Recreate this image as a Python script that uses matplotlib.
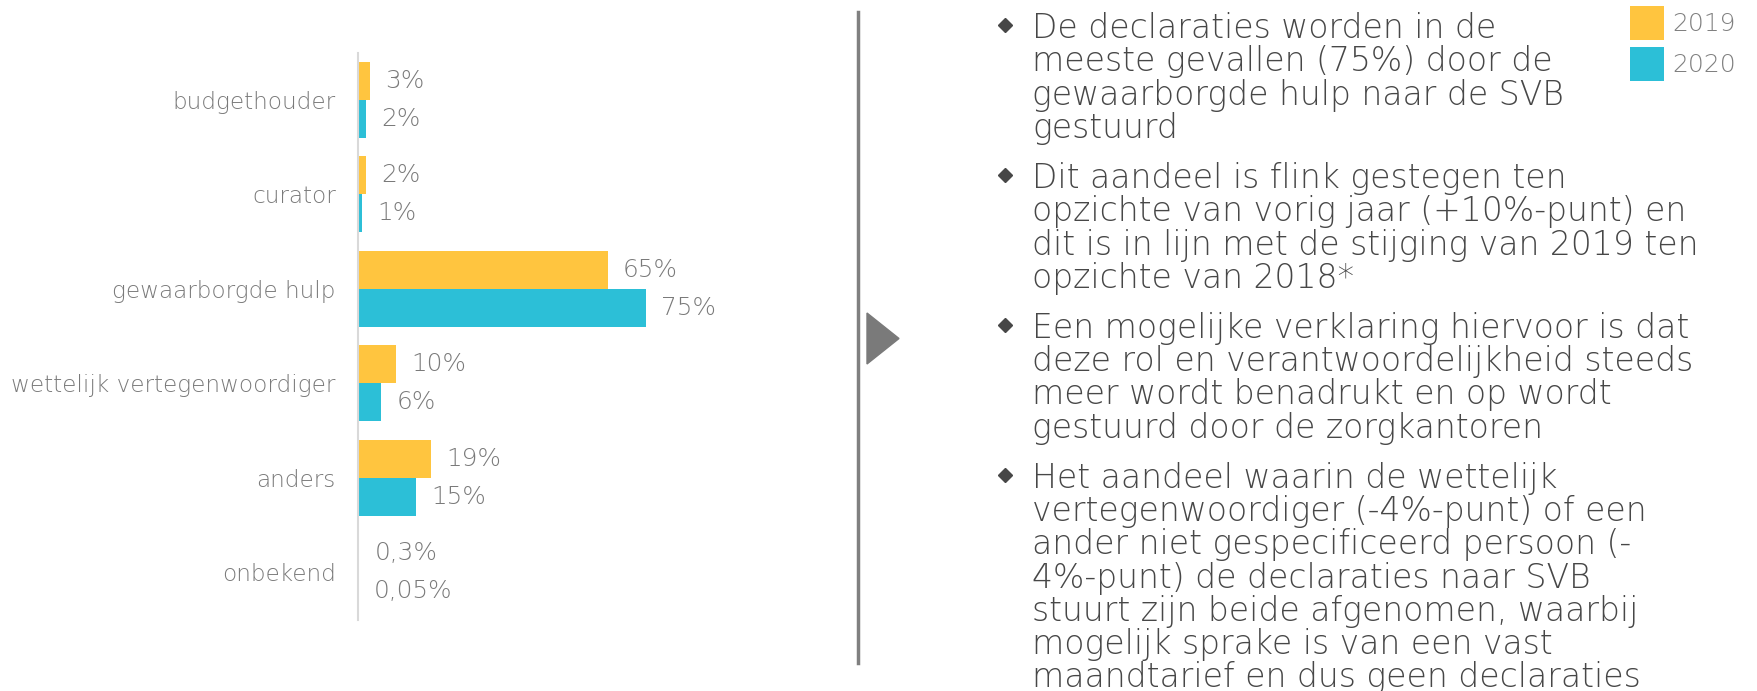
import numpy as np
import matplotlib
matplotlib.use("Agg")
import matplotlib.pyplot as plt
from matplotlib.lines import Line2D
from matplotlib.patches import Polygon

# data
categories = ["budgethouder", "curator", "gewaarborgde hulp",
              "wettelijk vertegenwoordiger", "anders", "onbekend"]
values_2019 = [3, 2, 65, 10, 19, 0.3]
values_2020 = [2, 1, 75, 6, 15, 0.05]
labels_2019 = ["3%", "2%", "65%", "10%", "19%", "0,3%"]
labels_2020 = ["2%", "1%", "75%", "6%", "15%", "0,05%"]
years = ["2019", "2020"]

bullets = [
    ["De declaraties worden in de",
     "meeste gevallen (75%) door de",
     "gewaarborgde hulp naar de SVB",
     "gestuurd"],
    ["Dit aandeel is flink gestegen ten",
     "opzichte van vorig jaar (+10%-punt) en",
     "dit is in lijn met de stijging van 2019 ten",
     "opzichte van 2018*"],
    ["Een mogelijke verklaring hiervoor is dat",
     "deze rol en verantwoordelijkheid steeds",
     "meer wordt benadrukt en op wordt",
     "gestuurd door de zorgkantoren"],
    ["Het aandeel waarin de wettelijk",
     "vertegenwoordiger (-4%-punt) of een",
     "ander niet gespecificeerd persoon (-",
     "4%-punt) de declaraties naar SVB",
     "stuurt zijn beide afgenomen, waarbij",
     "mogelijk sprake is van een vast",
     "maandtarief en dus geen declaraties"],
]

yellow = "#FFC53F"
blue = "#2CBFD7"
label_grey = "#7a7a7a"
text_grey = "#474747"

plt.rcParams["font.family"] = ["DejaVu Sans"]
plt.rcParams["font.weight"] = "light"

W, H = 1758, 691
fig = plt.figure(figsize=(W / 100, H / 100), dpi=100)


def fx(x):
    return x / W


def fy(y):
    return 1 - y / H


# 1. bar chart
ax = fig.add_axes([fx(358), fy(619.5), 384 / W, 567 / H])
pos = np.arange(len(categories))
b19 = ax.barh(pos - 0.2, values_2019, height=0.4, color=yellow)
b20 = ax.barh(pos + 0.2, values_2020, height=0.4, color=blue)
ax.bar_label(b19, labels=labels_2019, padding=11, color=label_grey, fontsize=17.8)
ax.bar_label(b20, labels=labels_2020, padding=11, color=label_grey, fontsize=17.8)

ax.set_yticks(pos, categories, fontsize=16.7, color=label_grey)
ax.tick_params(axis="y", length=0, pad=16)
ax.set_xticks([])
ax.set_xlim(0, 100)
ax.set_ylim(5.5, -0.5)
for side in ["top", "right", "bottom"]:
    ax.spines[side].set_visible(False)
ax.spines["left"].set_color("#d9d9d9")
ax.spines["left"].set_linewidth(1.5)

# 2. divider and arrow
fig.add_artist(Line2D([fx(858), fx(858)], [fy(12), fy(663)], color="#808080", lw=2.5))
fig.add_artist(Polygon([(fx(867), fy(313)), (fx(899), fy(338.5)), (fx(867), fy(364))],
                       closed=True, color="#7a7a7a", transform=fig.transFigure))

# 3. bullet text
line_step = 33.3
bullet_gap = 16.7
baseline = 38
for lines in bullets:
    fig.add_artist(Line2D([fx(1005)], [fy(baseline - 13)], marker="D", markersize=7,
                          color=text_grey, linestyle="none"))
    for line in lines:
        fig.text(fx(1032), fy(baseline), line, ha="left", va="baseline",
                 fontsize=23.8, color=text_grey)
        baseline += line_step
    baseline += bullet_gap

# 4. legend
fig.legend(handles=[b19, b20], labels=years, loc="upper left",
           bbox_to_anchor=(fx(1630), fy(6)), frameon=False,
           prop={"size": 18, "weight": "light"}, labelcolor="#808080",
           handlelength=1.35, handleheight=1.7, handletextpad=0.35,
           labelspacing=0.3, borderpad=0, borderaxespad=0)

fig.savefig("out.png", dpi=100)
